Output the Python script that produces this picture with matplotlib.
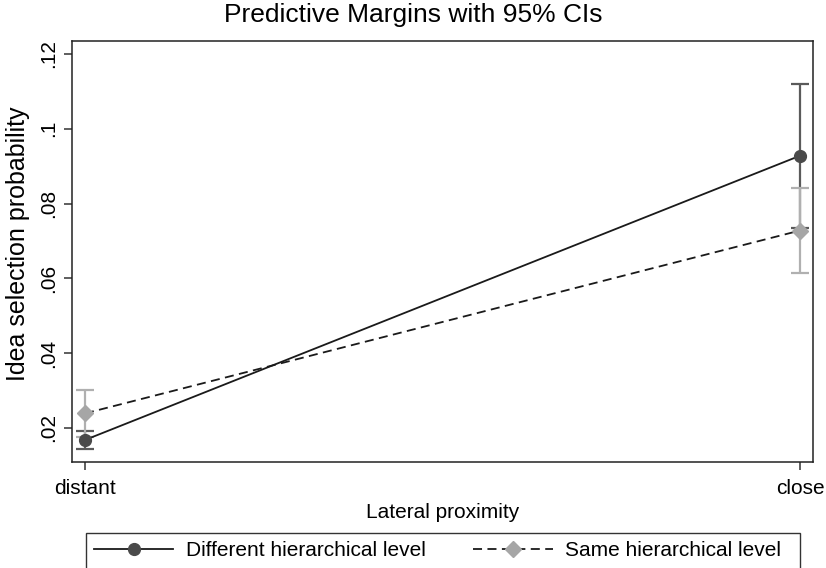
import matplotlib
matplotlib.use("Agg")
import matplotlib.pyplot as plt
from matplotlib.lines import Line2D
from matplotlib.patches import Rectangle

plt.rcParams['font.family'] = ['Liberation Sans', 'DejaVu Sans']

categories = ["distant", "close"]
diff_margin = [0.0168, 0.0928]
diff_lo = [0.0144, 0.0736]
diff_hi = [0.0192, 0.1120]
same_margin = [0.0239, 0.0728]
same_lo = [0.0176, 0.0614]
same_hi = [0.0302, 0.0842]
yticks = [0.02, 0.04, 0.06, 0.08, 0.10, 0.12]
ytick_labels = [".02", ".04", ".06", ".08", ".1", ".12"]

fig = plt.figure(figsize=(8.26, 5.68), dpi=100)
ax = fig.add_axes([72/826, 1-462/568, (813-72)/826, (462-41)/568])

x = list(range(len(categories)))
dark = "#4a4a4a"
darkci = "#5a5a5a"
gray = "#a6a6a6"
grayci = "#b0b0b0"

for xi, lo, hi in zip(x, diff_lo, diff_hi):
    ax.vlines(xi, lo, hi, color=darkci, lw=1.6, zorder=2)
    ax.hlines([lo, hi], xi-0.012, xi+0.012, color=darkci, lw=1.6, zorder=2)
for xi, lo, hi in zip(x, same_lo, same_hi):
    ax.vlines(xi, lo, hi, color=grayci, lw=1.6, zorder=2)
    ax.hlines([lo, hi], xi-0.012, xi+0.012, color=grayci, lw=1.6, zorder=2)

ax.plot(x, diff_margin, color="#1a1a1a", lw=1.3, zorder=3)
ax.plot(x, diff_margin, ls='none', marker='o', ms=8.5, mfc=dark, mec=dark, zorder=4)
ax.plot(x, same_margin, color="#1a1a1a", lw=1.3, ls=(0, (5, 3)), zorder=3)
ax.plot(x, same_margin, ls='none', marker='D', ms=8.5, mfc=gray, mec=gray, zorder=4)

ax.set_xlim(-13/715, 1 + 13/715)
ax.set_ylim(0.02 - 34/3740, 0.12 + 13/3740)
ax.set_xticks(x)
ax.set_xticklabels(categories, fontsize=15)
ax.set_yticks(yticks)
ax.set_yticklabels(ytick_labels, fontsize=15, rotation=90, va='center')
ax.tick_params(axis='both', length=6, width=1.1, color="#333333")
ax.tick_params(axis='x', pad=6)
ax.tick_params(axis='y', pad=4)
for s in ax.spines.values():
    s.set_linewidth(1.1)
    s.set_color("#222222")

ax.set_xlabel("Lateral proximity", fontsize=15, labelpad=4)
fig.text(18/826, 1-244/568, "Idea selection probability", fontsize=18,
         rotation=90, ha='center', va='center')
fig.text(0.5, 1-15/568, "Predictive Margins with 95% CIs", fontsize=19,
         ha='center', va='center')

# legend frame (extends past the bottom edge as in the reference)
fig.patches.append(Rectangle((86/826, -0.02), (800-86)/826, 0.02 + (568-533)/568,
                             transform=fig.transFigure, fill=False,
                             edgecolor="#333333", lw=1.0))
handles = [
    Line2D([], [], color="#1a1a1a", lw=1.3, marker='o', ms=8.5, mfc=dark, mec=dark),
    Line2D([], [], color="#1a1a1a", lw=1.3, ls=(0, (5, 3)), marker='D', ms=8.5, mfc=gray, mec=gray),
]
leg = fig.legend(handles, ["Different hierarchical level", "Same hierarchical level"],
                 ncol=2, loc='center left',
                 bbox_to_anchor=(94/826, 1-551/568),
                 borderaxespad=0, borderpad=0, fontsize=15, handlelength=3.8,
                 handletextpad=0.6, frameon=False, columnspacing=2.3)

fig.savefig("out.png", dpi=100)
